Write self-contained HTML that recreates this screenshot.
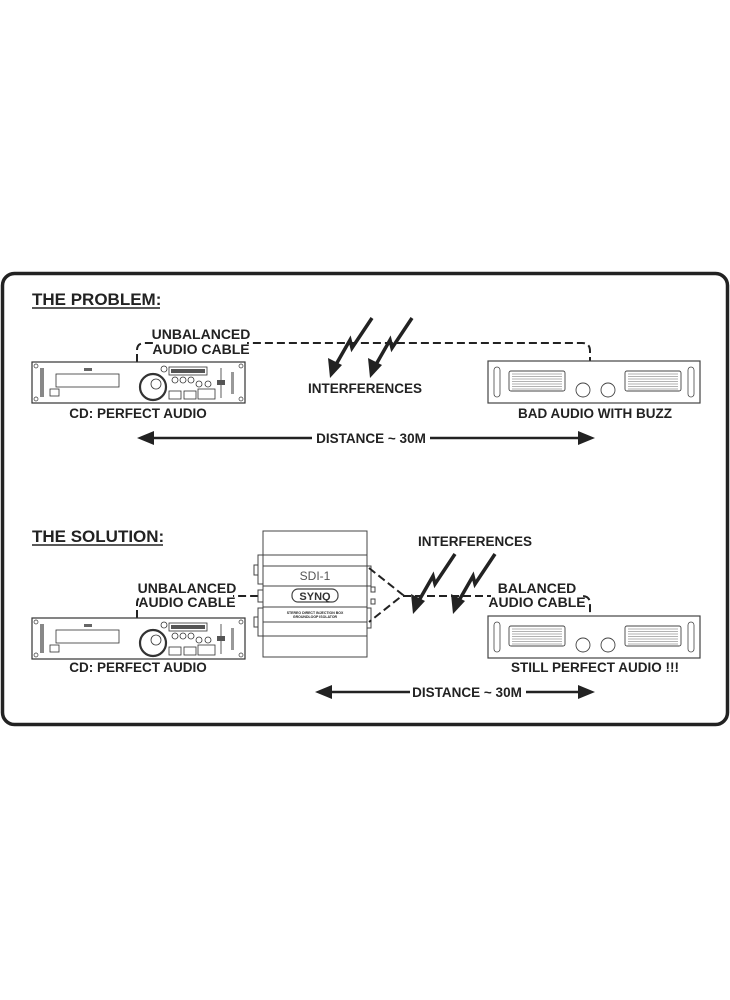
<!DOCTYPE html>
<html><head><meta charset="utf-8"><style>
body{margin:0;background:#fff}
svg{display:block}
text{font-family:"Liberation Sans",Arial,sans-serif;font-weight:bold;fill:#222}
</style></head><body>
<svg width="730" height="1000" viewBox="0 0 730 1000" xmlns="http://www.w3.org/2000/svg">
<defs>
<g id="cd">
 <rect x="0" y="0" width="213" height="41" fill="#fff" stroke="#333" stroke-width="1.2"/>
 <circle cx="4" cy="4" r="2" fill="none" stroke="#333" stroke-width=".7"/>
 <circle cx="4" cy="37" r="2" fill="none" stroke="#333" stroke-width=".7"/>
 <circle cx="209" cy="4" r="2" fill="none" stroke="#333" stroke-width=".7"/>
 <circle cx="209" cy="37" r="2" fill="none" stroke="#333" stroke-width=".7"/>
 <rect x="8" y="6" width="4" height="29" fill="#888"/>
 <rect x="24" y="12" width="63" height="13" fill="none" stroke="#333" stroke-width=".8"/>
 <rect x="52" y="6" width="8" height="3" fill="#666"/>
 <rect x="18" y="27" width="9" height="7" fill="none" stroke="#333" stroke-width=".8"/>
 <circle cx="121" cy="25" r="13" fill="none" stroke="#333" stroke-width="2.2"/>
 <circle cx="124" cy="22" r="5" fill="none" stroke="#333" stroke-width=".8"/>
 <circle cx="132" cy="7" r="3" fill="none" stroke="#333" stroke-width=".8"/>
 <rect x="137" y="5" width="38" height="8" fill="none" stroke="#333" stroke-width=".8"/>
 <rect x="139" y="7" width="34" height="4" fill="#555"/>
 <circle cx="143" cy="18" r="3" fill="none" stroke="#333" stroke-width=".8"/>
 <circle cx="151" cy="18" r="3" fill="none" stroke="#333" stroke-width=".8"/>
 <circle cx="159" cy="18" r="3" fill="none" stroke="#333" stroke-width=".8"/>
 <circle cx="167" cy="22" r="3" fill="none" stroke="#333" stroke-width=".8"/>
 <circle cx="176" cy="22" r="3" fill="none" stroke="#333" stroke-width=".8"/>
 <rect x="137" y="29" width="12" height="8" fill="none" stroke="#333" stroke-width=".8"/>
 <rect x="152" y="29" width="12" height="8" fill="none" stroke="#333" stroke-width=".8"/>
 <rect x="166" y="27" width="17" height="10" fill="none" stroke="#333" stroke-width=".8"/>
 <line x1="189" y1="6" x2="189" y2="36" stroke="#333" stroke-width=".8"/>
 <rect x="185" y="18" width="8" height="5" fill="#555"/>
 <rect x="199" y="10" width="3" height="22" fill="#999"/>
</g>
<g id="amp">
 <rect x="0" y="0" width="212" height="42" fill="#fff" stroke="#444" stroke-width="1.2"/>
 <rect x="6" y="6" width="6" height="30" rx="3" fill="none" stroke="#444" stroke-width=".8"/>
 <rect x="200" y="6" width="6" height="30" rx="3" fill="none" stroke="#444" stroke-width=".8"/>
 <rect x="21" y="10" width="56" height="20" rx="2" fill="#fff" stroke="#444" stroke-width=".9"/>
 <rect x="137" y="10" width="56" height="20" rx="2" fill="#fff" stroke="#444" stroke-width=".9"/>
 <g stroke="#666" stroke-width=".6">
  <line x1="24" y1="13" x2="74" y2="13"/><line x1="24" y1="15.5" x2="74" y2="15.5"/><line x1="24" y1="18" x2="74" y2="18"/><line x1="24" y1="20.5" x2="74" y2="20.5"/><line x1="24" y1="23" x2="74" y2="23"/><line x1="24" y1="25.5" x2="74" y2="25.5"/><line x1="24" y1="28" x2="74" y2="28"/>
  <line x1="140" y1="13" x2="190" y2="13"/><line x1="140" y1="15.5" x2="190" y2="15.5"/><line x1="140" y1="18" x2="190" y2="18"/><line x1="140" y1="20.5" x2="190" y2="20.5"/><line x1="140" y1="23" x2="190" y2="23"/><line x1="140" y1="25.5" x2="190" y2="25.5"/><line x1="140" y1="28" x2="190" y2="28"/>
 </g>
 <circle cx="95" cy="29" r="7" fill="none" stroke="#444" stroke-width=".9"/>
 <circle cx="120" cy="29" r="7" fill="none" stroke="#444" stroke-width=".9"/>
</g>
<g id="bolt">
 <polyline points="32,0 12,30 10,22 -6,50" fill="none" stroke="#222" stroke-width="3.5"/>
 <polygon points="-12,40 -10,60 2,47" fill="#222"/>
</g>
</defs>

<rect x="2.5" y="273.5" width="725" height="451" rx="12" fill="none" stroke="#222" stroke-width="3.5"/>

<!-- PROBLEM -->
<text x="32" y="305" font-size="17">THE PROBLEM:</text>
<line x1="32" y1="308" x2="160" y2="308" stroke="#222" stroke-width="1.5"/>
<path d="M137,362 V350 Q137,343 145,343 H582 Q590,343 590,351 V362" fill="none" stroke="#222" stroke-width="2" stroke-dasharray="8,4"/>
<rect x="155" y="327" width="92" height="28" fill="#fff"/>
<text x="201" y="339" font-size="14" text-anchor="middle">UNBALANCED</text>
<text x="201" y="354" font-size="14" text-anchor="middle">AUDIO CABLE</text>
<use href="#cd" x="32" y="362"/>
<use href="#amp" x="488" y="361"/>
<use href="#bolt" x="340" y="318"/>
<use href="#bolt" x="380" y="318"/>
<text x="365" y="393" font-size="13.5" text-anchor="middle">INTERFERENCES</text>
<text x="138" y="418" font-size="13.5" text-anchor="middle">CD: PERFECT AUDIO</text>
<text x="595" y="418" font-size="13.5" text-anchor="middle">BAD AUDIO WITH BUZZ</text>
<line x1="150" y1="438" x2="312" y2="438" stroke="#222" stroke-width="2.5"/>
<line x1="430" y1="438" x2="582" y2="438" stroke="#222" stroke-width="2.5"/>
<polygon points="137,438 154,431 154,445" fill="#222"/>
<polygon points="595,438 578,431 578,445" fill="#222"/>
<text x="371" y="443" font-size="13.5" text-anchor="middle">DISTANCE ~ 30M</text>

<!-- SOLUTION -->
<text x="32" y="542" font-size="17">THE SOLUTION:</text>
<line x1="32" y1="545" x2="163" y2="545" stroke="#222" stroke-width="1.5"/>
<path d="M137,618 V604 Q137,596 145,596 H258" fill="none" stroke="#222" stroke-width="2" stroke-dasharray="8,4"/>
<rect x="141" y="581" width="92" height="28" fill="#fff"/>
<text x="187" y="593" font-size="14" text-anchor="middle">UNBALANCED</text>
<text x="187" y="607" font-size="14" text-anchor="middle">AUDIO CABLE</text>
<use href="#cd" x="32" y="618"/>

<!-- SDI box -->
<g stroke="#444" fill="#fff" stroke-width="1">
 <rect x="263" y="531" width="104" height="126"/>
 <line x1="263" y1="555" x2="367" y2="555"/>
 <line x1="263" y1="566" x2="367" y2="566"/>
 <line x1="263" y1="586" x2="367" y2="586"/>
 <line x1="263" y1="607" x2="367" y2="607"/>
 <line x1="263" y1="622" x2="367" y2="622"/>
 <line x1="263" y1="636" x2="367" y2="636"/>
 <rect x="258" y="555" width="5" height="29"/>
 <rect x="254" y="565" width="4" height="10"/>
 <rect x="258" y="608" width="5" height="28"/>
 <rect x="254" y="617" width="4" height="10"/>
 <rect x="258" y="590" width="5" height="12"/>
 <rect x="367" y="566" width="4" height="20"/>
 <rect x="367" y="608" width="4" height="20"/>
 <rect x="371" y="587" width="4" height="5"/>
 <rect x="371" y="599" width="4" height="5"/>
</g>
<text x="315" y="580" font-size="12" text-anchor="middle" style="font-weight:normal;fill:#555">SDI-1</text>
<rect x="292" y="589" width="46" height="13" rx="6" fill="none" stroke="#444" stroke-width="1.2"/>
<text x="315" y="600" font-size="11" text-anchor="middle" style="fill:#333">SYNQ</text>
<text x="315" y="614" font-size="3.5" text-anchor="middle">STEREO DIRECT INJECTION BOX</text>
<text x="315" y="618" font-size="3.5" text-anchor="middle">GROUNDLOOP ISOLATOR</text>

<path d="M369,568 L403,595 L369,622" fill="none" stroke="#222" stroke-width="2" stroke-dasharray="8,4"/>
<path d="M403,596 H582 Q590,596 590,604 V617" fill="none" stroke="#222" stroke-width="2" stroke-dasharray="8,4"/>
<text x="475" y="546" font-size="13.5" text-anchor="middle">INTERFERENCES</text>
<use href="#bolt" x="423" y="554"/>
<use href="#bolt" x="463" y="554"/>
<rect x="491" y="581" width="92" height="28" fill="#fff"/>
<text x="537" y="593" font-size="14" text-anchor="middle">BALANCED</text>
<text x="537" y="607" font-size="14" text-anchor="middle">AUDIO CABLE</text>
<use href="#amp" x="488" y="616"/>
<text x="138" y="672" font-size="13.5" text-anchor="middle">CD: PERFECT AUDIO</text>
<text x="595" y="672" font-size="13.5" text-anchor="middle">STILL PERFECT AUDIO !!!</text>
<line x1="328" y1="692" x2="410" y2="692" stroke="#222" stroke-width="2.5"/>
<line x1="526" y1="692" x2="582" y2="692" stroke="#222" stroke-width="2.5"/>
<polygon points="315,692 332,685 332,699" fill="#222"/>
<polygon points="595,692 578,685 578,699" fill="#222"/>
<text x="467" y="697" font-size="13.5" text-anchor="middle">DISTANCE ~ 30M</text>
</svg>
</body></html>
